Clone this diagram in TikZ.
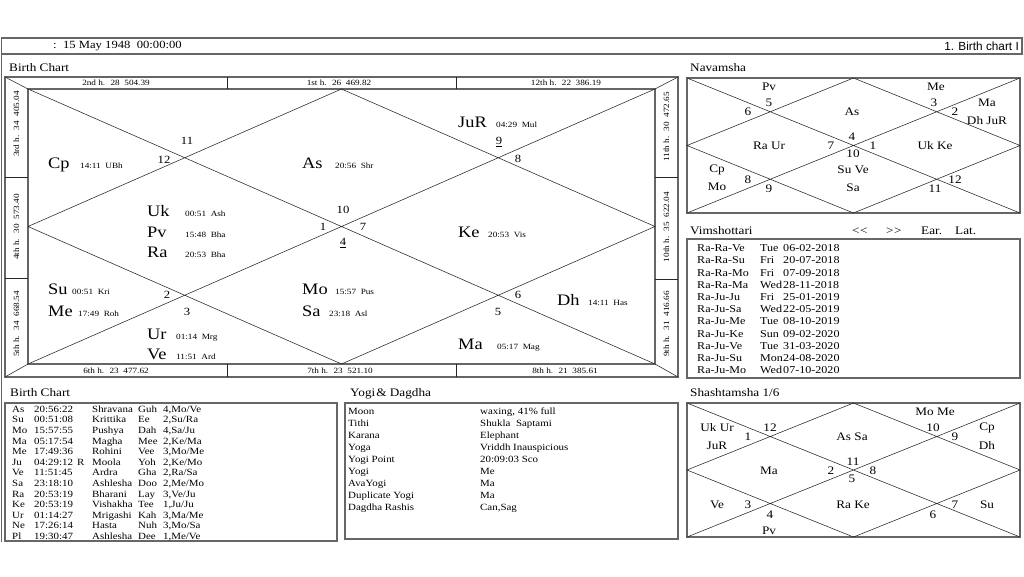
\documentclass[tikz,border=0pt]{standalone}
\usepackage{fontspec}
\setmainfont[FakeStretch=1.15]{Liberation Serif}
\newfontfamily\arialf{Liberation Sans}
\newcommand\pbig{\fontsize{16}{18}\selectfont}
\newcommand\pdet{\fontsize{8}{9}\selectfont}
\newcommand\pnum{\fontsize{11}{13}\selectfont}
\newcommand\plab{\fontsize{11.5}{13}\selectfont}
\newcommand\ptab{\fontsize{9.5}{11}\selectfont}
\newcommand\pvim{\fontsize{10.5}{12}\selectfont}
\newcommand\phead{\fontsize{11.5}{13}\selectfont}
\newcommand\brow[8]{%
  \node[tx,font=\ptab] (b#1a) at (12,#2) {#3};
  \node[tx,font=\ptab] (b#1b) at (34,#2) {#4};
  \node[tx,font=\ptab] (b#1c) at (77,#2) {#5};
  \node[tx,font=\ptab] (b#1d) at (92,#2) {#6};
  \node[tx,font=\ptab] (b#1e) at (138,#2) {#7};
  \node[tx,font=\ptab] (b#1f) at (163,#2) {#8};}
\newcommand\yrow[4]{%
  \node[tx,font=\ptab] (y#1a) at (348,#2) {#3};
  \node[tx,font=\ptab] (y#1b) at (480,#2) {#4};}
\newcommand\vrow[5]{%
  \node[tx,font=\pvim] (v#1a) at (697,#2) {#3};
  \node[tx,font=\pvim] (v#1b) at (760,#2) {#4};
  \node[tx,font=\pvim] (v#1c) at (783,#2) {#5};}
\begin{document}
\begin{tikzpicture}[x=1pt,y=-1pt,
  frame/.style={draw=black!60, line width=1.4pt},
  thinl/.style={draw=black!85, line width=0.55pt},
  tx/.style={anchor=base west, inner sep=0pt},
  ctr/.style={inner sep=0pt},
  pn/.style={anchor=base west, inner sep=0pt, font=\pbig},
  pd/.style={anchor=base west, inner sep=0pt, font=\pdet},
  num/.style={inner sep=0pt, font=\pnum},
  lab/.style={inner sep=0pt, font=\plab},
  hl/.style={inner sep=0pt, font=\pdet},
  hd/.style={anchor=base west, inner sep=0pt, font=\phead}]
\useasboundingbox[fill=white] (0,0) rectangle (1024,576);

% header
\draw[frame] (1.5,38) rectangle (1022,54);
\draw[frame] (1.5,54) -- (1.5,542);
\node[anchor=west, inner sep=0pt, font=\fontsize{11}{13}\selectfont] (date) at (53,46) {:~~15 May 1948~~00:00:00};
\node[anchor=east, inner sep=0pt, font=\arialf\fontsize{11.8}{13}\selectfont] (title) at (1019,46) {1. Birth chart I};

% headings
\node[hd] (h1) at (9,71) {Birth Chart};
\node[hd] (h2) at (690,71) {Navamsha};
\node[hd] (h3) at (690,234) {Vimshottari};
\node[hd] (h4) at (10,396) {Birth Chart};
\node[hd] (h5) at (350,396) {Yogi\hspace{1pt}\& Dagdha};
\node[hd] (h6) at (690,396) {Shashtamsha 1/6};
\node[hd] (e1) at (852,234) {<\kern0.5pt<};
\node[hd] (e2) at (886,234) {>\kern0.5pt>};
\node[hd] (e3) at (921,234) {Ear.};
\node[hd] (e4) at (955,234) {Lat.};

% ---------- main chart ----------
\coordinate (O1) at (5,77); \coordinate (O2) at (678,377);
\coordinate (I1) at (28,89); \coordinate (I2) at (655,364);
\draw[frame] (O1) rectangle (O2);
\draw[frame] (I1) rectangle (I2);
\draw[thinl] (5,77)--(28,89) (678,77)--(655,89) (5,377)--(28,364) (678,377)--(655,364);
\draw[thinl] (227,77)--(227,89) (456,77)--(456,89) (227,364)--(227,377) (456,364)--(456,377)
  (5,177)--(28,177) (5,278)--(28,278) (655,177)--(678,177) (655,279)--(678,279);
\draw[thinl] (28,89)--(655,364) (655,89)--(28,364)
  (341.5,89)--(655,226.5)--(341.5,364)--(28,226.5)--cycle;

% house strip labels
\node[hl] (t1) at (116,83) {2nd h.~ 28~ 504.39};
\node[hl] (t2) at (339,83) {1st h.~ 26~ 469.82};
\node[hl] (t3) at (566,83) {12th h.~ 22~ 386.19};
\node[hl] (u1) at (116,371) {6th h.~ 23~ 477.62};
\node[hl] (u2) at (340,371) {7th h.~ 23~ 521.10};
\node[hl] (u3) at (565,371) {8th h.~ 21~ 385.61};
\node[hl,rotate=90] (l1) at (16.5,124) {3rd h.~ 34~ 405.04};
\node[hl,rotate=90] (l2) at (16.5,227) {4th h.~ 30~ 573.40};
\node[hl,rotate=90] (l3) at (16.5,324) {5th h.~ 34~ 668.54};
\node[hl,rotate=90] (r1) at (666.5,127) {11th h.~ 30~ 472.65};
\node[hl,rotate=90] (r2) at (666.5,227) {10th h.~ 35~ 622.04};
\node[hl,rotate=90] (r3) at (666.5,324) {9th h.~ 31~ 416.66};

% sign numbers
\node[num] (n11) at (187,141) {11};
\node[num] (n12) at (164,160) {12};
\node[num] (n1) at (323,227) {1};
\node[num] (n10) at (343,210) {10};
\node[num] (n7) at (363,227) {7};
\node[num] (n4) at (343,243) {\underline{4}};
\node[num] (n9) at (499,142) {\underline{9}};
\node[num] (n8) at (518,159) {8};
\node[num] (n2) at (167,295) {2};
\node[num] (n3) at (187,312) {3};
\node[num] (n6) at (518,295) {6};
\node[num] (n5) at (498,312) {5};

% planets
\node[pn] (cp) at (48,168) {Cp};   \node[pd] (cpd) at (80,168) {14:11~ UBh};
\node[pn] (as) at (302,168) {As};  \node[pd] (asd) at (335,168) {20:56~ Shr};
\node[pn] (ju) at (458,127) {JuR}; \node[pd] (jud) at (496,127) {04:29~ Mul};
\node[pn] (uk) at (147,216) {Uk};  \node[pd] (ukd) at (185,216) {00:51~ Ash};
\node[pn] (pv) at (147,237) {Pv};  \node[pd] (pvd) at (185,237) {15:48~ Bha};
\node[pn] (ra) at (147,257) {Ra};  \node[pd] (rad) at (185,257) {20:53~ Bha};
\node[pn] (ke) at (458,237) {Ke};  \node[pd] (ked) at (488,237) {20:53~ Vis};
\node[pn] (su) at (48,294) {Su};   \node[pd] (sud) at (72,294) {00:51~ Kri};
\node[pn] (me) at (48,316) {Me};   \node[pd] (med) at (78,316) {17:49~ Roh};
\node[pn] (mo) at (302,294) {Mo};  \node[pd] (mod) at (335,294) {15:57~ Pus};
\node[pn] (sa) at (302,316) {Sa};  \node[pd] (sad) at (329,316) {23:18~ Asl};
\node[pn] (ur) at (147,339) {Ur};  \node[pd] (urd) at (176,339) {01:14~ Mrg};
\node[pn] (ve) at (147,359) {Ve};  \node[pd] (ved) at (176,359) {11:51~ Ard};
\node[pn] (dh) at (557,305) {Dh};  \node[pd] (dhd) at (588,305) {14:11~ Has};
\node[pn] (ma) at (458,349) {Ma};  \node[pd] (mad) at (497,349) {05:17~ Mag};

% ---------- Navamsha ----------
\draw[frame] (687,78) rectangle (1020,213);
\draw[thinl] (687,78)--(1020,213) (1020,78)--(687,213)
  (853.5,78)--(1020,145.5)--(853.5,213)--(687,145.5)--cycle;
\node[lab] (na1) at (769,87) {Pv};
\node[lab] (na2) at (769,103) {5};
\node[lab] (na3) at (748,112) {6};
\node[lab] (na4) at (852,112) {As};
\node[lab] (na5) at (936,87) {Me};
\node[lab] (na6) at (934,103) {3};
\node[lab] (na7) at (955,112) {2};
\node[lab] (na8) at (987,103) {Ma};
\node[lab] (na9) at (987,121) {Dh JuR};
\node[lab] (na10) at (769,146) {Ra Ur};
\node[lab] (na11) at (852,137) {4};
\node[lab] (na12) at (831,146) {7};
\node[lab] (na13) at (873,146) {1};
\node[lab] (na14) at (853,154) {10};
\node[lab] (na15) at (935,146) {Uk Ke};
\node[lab] (na16) at (717,170) {Cp};
\node[lab] (na17) at (717,187) {Mo};
\node[lab] (na18) at (748,180) {8};
\node[lab] (na19) at (769,189) {9};
\node[lab] (na20) at (853,170) {Su Ve};
\node[lab] (na21) at (853,188) {Sa};
\node[lab] (na22) at (935,189) {11};
\node[lab] (na23) at (955,180) {12};

% ---------- Vimshottari ----------
\draw[frame] (687,239) rectangle (1020,378);
\vrow{1}{251.6}{Ra-Ra-Ve}{Tue}{06-02-2018}
\vrow{2}{263.8}{Ra-Ra-Su}{Fri}{20-07-2018}
\vrow{3}{276.0}{Ra-Ra-Mo}{Fri}{07-09-2018}
\vrow{4}{288.2}{Ra-Ra-Ma}{Wed}{28-11-2018}
\vrow{5}{300.4}{Ra-Ju-Ju}{Fri}{25-01-2019}
\vrow{6}{312.6}{Ra-Ju-Sa}{Wed}{22-05-2019}
\vrow{7}{324.8}{Ra-Ju-Me}{Tue}{08-10-2019}
\vrow{8}{337.0}{Ra-Ju-Ke}{Sun}{09-02-2020}
\vrow{9}{349.2}{Ra-Ju-Ve}{Tue}{31-03-2020}
\vrow{10}{361.4}{Ra-Ju-Su}{Mon}{24-08-2020}
\vrow{11}{373.6}{Ra-Ju-Mo}{Wed}{07-10-2020}

% ---------- Birth chart table ----------
\draw[frame] (5,403) rectangle (337,541);
\brow{1}{412.3}{As}{20:56:22}{}{Shravana}{Guh}{4,Mo/Ve}
\brow{2}{422.9}{Su}{00:51:08}{}{Krittika}{Ee}{2,Su/Ra}
\brow{3}{433.5}{Mo}{15:57:55}{}{Pushya}{Dah}{4,Sa/Ju}
\brow{4}{444.1}{Ma}{05:17:54}{}{Magha}{Mee}{2,Ke/Ma}
\brow{5}{454.7}{Me}{17:49:36}{}{Rohini}{Vee}{3,Mo/Me}
\brow{6}{465.3}{Ju}{04:29:12}{R}{Moola}{Yoh}{2,Ke/Mo}
\brow{7}{475.9}{Ve}{11:51:45}{}{Ardra}{Gha}{2,Ra/Sa}
\brow{8}{486.5}{Sa}{23:18:10}{}{Ashlesha}{Doo}{2,Me/Mo}
\brow{9}{497.1}{Ra}{20:53:19}{}{Bharani}{Lay}{3,Ve/Ju}
\brow{10}{507.7}{Ke}{20:53:19}{}{Vishakha}{Tee}{1,Ju/Ju}
\brow{11}{518.3}{Ur}{01:14:27}{}{Mrigashi}{Kah}{3,Ma/Me}
\brow{12}{528.9}{Ne}{17:26:14}{}{Hasta}{Nuh}{3,Mo/Sa}
\brow{13}{539.0}{Pl}{19:30:47}{}{Ashlesha}{Dee}{1,Me/Ve}

% ---------- Yogi & Dagdha ----------
\draw[frame] (345,403) rectangle (678,539);
\yrow{1}{414.3}{Moon}{waxing, 41\% full}
\yrow{2}{426.3}{Tithi}{Shukla~ Saptami}
\yrow{3}{438.3}{Karana}{Elephant}
\yrow{4}{450.3}{Yoga}{Vriddh Inauspicious}
\yrow{5}{462.3}{Yogi Point}{20:09:03 Sco}
\yrow{6}{474.3}{Yogi}{Me}
\yrow{7}{486.3}{AvaYogi}{Ma}
\yrow{8}{498.3}{Duplicate Yogi}{Ma}
\yrow{9}{510.3}{Dagdha Rashis}{Can,Sag}

% ---------- Shashtamsha ----------
\draw[frame] (687,403) rectangle (1020,537);
\draw[thinl] (687,403)--(1020,537) (1020,403)--(687,537)
  (853.5,403)--(1020,470)--(853.5,537)--(687,470)--cycle;
\node[lab] (sh1) at (717,428) {Uk Ur};
\node[lab] (sh2) at (717,446) {JuR};
\node[lab] (sh3) at (748,437) {1};
\node[lab] (sh4) at (770,428) {12};
\node[lab] (sh5) at (852,437) {As Sa};
\node[lab] (sh6) at (935,412) {Mo Me};
\node[lab] (sh7) at (933,428) {10};
\node[lab] (sh8) at (955,437) {9};
\node[lab] (sh9) at (987,428) {Cp};
\node[lab] (sh10) at (987,446) {Dh};
\node[lab] (sh11) at (769,471) {Ma};
\node[lab] (sh12) at (853,462) {11};
\node[lab] (sh13) at (831,471) {2};
\node[lab] (sh14) at (873,471) {8};
\node[lab] (sh15) at (852,479) {5};
\node[lab] (sh16) at (717,505) {Ve};
\node[lab] (sh17) at (748,505) {3};
\node[lab] (sh18) at (770,515) {4};
\node[lab] (sh19) at (769,531) {Pv};
\node[lab] (sh20) at (853,505) {Ra Ke};
\node[lab] (sh21) at (933,515) {6};
\node[lab] (sh22) at (955,505) {7};
\node[lab] (sh23) at (987,505) {Su};
\end{tikzpicture}
\end{document}
